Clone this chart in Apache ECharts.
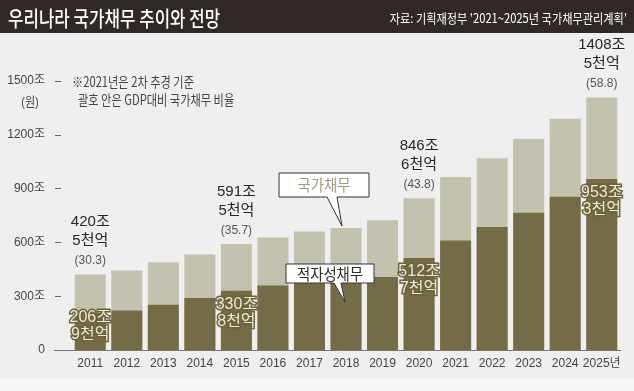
<!DOCTYPE html>
<html><head><meta charset="utf-8">
<script src="https://cdn.jsdelivr.net/npm/echarts@6/dist/echarts.min.js"></script>
<style>html,body{margin:0;padding:0;background:#efefef}#c{width:634px;height:391px}</style>
</head><body><div id="c"></div>
<script>
const years = ['2011','2012','2013','2014','2015','2016','2017','2018','2019','2020','2021','2022','2023','2024','2025년'];
const totalDebt = [420.5, 443.1, 489.8, 533.2, 591.5, 626.9, 660.2, 680.5, 723.2, 846.6, 965.3, 1069.0, 1177.0, 1290.0, 1408.5];
const deficitDebt = [206.9, 220.0, 253.0, 290.0, 330.8, 359.9, 374.8, 379.2, 407.6, 512.7, 611.0, 686.0, 766.0, 854.0, 953.3];
const totalLabels = ['420조\n5천억', null, null, null, '591조\n5천억', null, null, null, null, '846조\n6천억', null, null, null, null, '1408조\n5천억'];
const gdpRatio = ['30.3', null, null, null, '35.7', null, null, null, null, '43.8', null, null, null, null, '58.8'];
const deficitLabels = ['206조\n9천억', null, null, null, '330조\n8천억', null, null, null, null, '512조\n7천억', null, null, null, null, '953조\n3천억'];
const yTicks = [0, 300, 600, 900, 1200, 1500];

const FONT = '"Liberation Sans Narrow", "Liberation Sans", "Noto Sans CJK KR", sans-serif';
const LIGHT = '#c3c2ae';
const DARK = '#736c46';

const chart = echarts.init(document.getElementById('c'), null, {renderer: 'canvas'});

const totalData = totalDebt.map((v, i) => totalLabels[i] ? {
  value: v,
  label: {
    show: true, position: 'top', distance: 3,
    formatter: '{a|' + totalLabels[i].split('\n').join('}\n{a|') + '}\n{b|(' + gdpRatio[i] + ')}',
    rich: {
      a: {fontFamily: FONT, fontSize: 15, lineHeight: 19, color: '#262626'},
      b: {fontFamily: FONT, fontSize: 12, lineHeight: 21, color: '#555'}
    }
  }
} : v);

const deficitData = deficitDebt.map((v, i) => deficitLabels[i] ? {
  value: v,
  label: {
    show: true, position: 'insideTop', distance: i === 0 ? -4 : 5,
    formatter: deficitLabels[i],
    fontFamily: FONT, fontSize: 16, lineHeight: 17, color: '#efe9d2',
    textBorderColor: '#6a633d', textBorderWidth: 3
  }
} : v);

const option = {
  backgroundColor: '#efefef',
  animation: false,
  grid: {left: 72, right: 14, top: 81, bottom: 41},
  xAxis: {
    type: 'category', data: years,
    axisLine: {show: false}, axisTick: {show: false},
    axisLabel: {color: '#444', fontSize: 12, fontFamily: FONT, margin: 8, interval: 0}
  },
  yAxis: {
    type: 'value', min: yTicks[0], max: yTicks[yTicks.length - 1], interval: 300,
    offset: 11,
    axisLine: {show: false},
    axisTick: {show: true, length: 6, lineStyle: {color: '#666'}},
    splitLine: {show: false},
    axisLabel: {color: '#444', fontSize: 12, fontFamily: FONT, margin: 16,
      formatter: v => v === 0 ? '0' : v + '조'}
  },
  series: [
    {type: 'bar', name: '국가채무', data: totalData, barWidth: 31, barGap: '-100%', itemStyle: {color: LIGHT}, z: 2},
    {type: 'bar', name: '적자성채무', data: deficitData, barWidth: 31, itemStyle: {color: DARK}, z: 3}
  ],
  graphic: [
    {type: 'rect', shape: {x: 0, y: 0, width: 634, height: 33}, style: {fill: '#2f2826'}, z: 10},
    {type: 'rect', shape: {x: 0, y: 379, width: 634, height: 12}, style: {fill: '#f7f7f7'}, z: 0},
    {type: 'text', x: 8, y: 18, scaleX: 0.8, z: 11,
      style: {text: '우리나라 국가채무 추이와 전망', font: '500 21px "Noto Sans CJK KR"', fill: '#fff', textVerticalAlign: 'middle'}},
    {type: 'text', x: 627, y: 18, scaleX: 0.86, z: 11,
      style: {text: "자료: 기획재정부 '2021~2025년 국가채무관리계획'", font: '13px "Noto Sans CJK KR"', fill: '#fff', textAlign: 'right', textVerticalAlign: 'middle'}},
    {type: 'text', x: 30, y: 102, scaleX: 0.85, z: 11,
      style: {text: '(원)', font: '13px ' + FONT, fill: '#444', textAlign: 'center', textVerticalAlign: 'middle'}},
    {type: 'text', x: 72, y: 82, scaleX: 0.8, z: 11,
      style: {text: '※2021년은 2차 추경 기준', font: '14px "Noto Sans CJK KR"', fill: '#444', textVerticalAlign: 'middle'}},
    {type: 'text', x: 78, y: 100, scaleX: 0.8, z: 11,
      style: {text: '괄호 안은 GDP대비 국가채무 비율', font: '14px "Noto Sans CJK KR"', fill: '#444', textVerticalAlign: 'middle'}},
    {type: 'line', shape: {x1: 54, y1: 350.5, x2: 621, y2: 350.5}, style: {stroke: '#777', lineWidth: 1}, z: 5},
    {type: 'polygon', z: 20,
      shape: {points: [[279,173],[369,173],[369,197],[337,197],[342,226],[327,197],[279,197]]},
      style: {fill: '#fff', stroke: '#333', lineWidth: 1}},
    {type: 'text', x: 324, y: 185, scaleX: 0.9, z: 21,
      style: {text: '국가채무', font: '16px "Noto Sans CJK KR"', fill: '#a29c7b', textAlign: 'center', textVerticalAlign: 'middle'}},
    {type: 'polygon', z: 20,
      shape: {points: [[286,264],[374,264],[374,283],[341,283],[345,302],[334,283],[286,283]]},
      style: {fill: '#fff', stroke: '#333', lineWidth: 1}},
    {type: 'text', x: 330, y: 273.5, scaleX: 0.9, z: 21,
      style: {text: '적자성채무', font: '16px "Noto Sans CJK KR"', fill: '#2a2a2a', textAlign: 'center', textVerticalAlign: 'middle'}}
  ]
};
chart.setOption(option);
</script></body></html>
